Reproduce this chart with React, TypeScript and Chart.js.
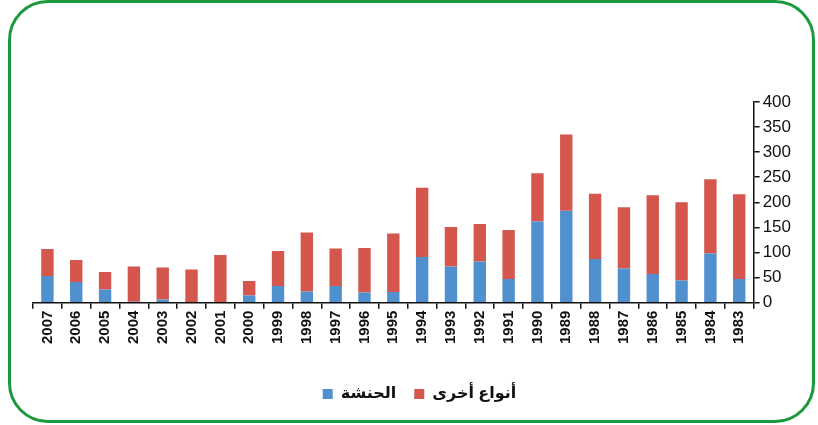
import React, { useEffect, useRef } from "react";
import { Chart, registerables } from "chart.js";

Chart.register(...registerables);

const years = [
  "2007", "2006", "2005", "2004", "2003", "2002", "2001", "2000", "1999",
  "1998", "1997", "1996", "1995", "1994", "1993", "1992", "1991", "1990",
  "1989", "1988", "1987", "1986", "1985", "1984", "1983",
];

// الحنشة (blue, bottom segment)
const hanasha = [
  53, 41, 26, 2, 6, 0, 0, 14, 33,
  22, 33, 20, 21, 91, 72, 82, 47, 162,
  183, 87, 68, 57, 44, 98, 47,
];

// أنواع أخرى (red, top segment)
const others = [
  54, 44, 35, 70, 64, 66, 95, 29, 70,
  118, 75, 89, 117, 138, 79, 75, 98, 96,
  152, 130, 122, 157, 156, 148, 169,
];

const yTicks = [0, 50, 100, 150, 200, 250, 300, 350, 400];

const seriesNames = ["الحنشة", "أنواع أخرى"];

const legendShift = {
  id: "legendShift",
  afterLayout(chart: any) {
    if (chart.legend) {
      chart.legend.left += 6;
      chart.legend.right += 6;
    }
  },
};

export default function App() {
  const canvasRef = useRef<HTMLCanvasElement | null>(null);

  useEffect(() => {
    document.body.style.margin = "0";
    const canvas = canvasRef.current;
    if (!canvas) return;
    const font = "Arial, 'Liberation Sans', 'DejaVu Sans', sans-serif";
    const chart = new Chart(canvas, {
      type: "bar",
      data: {
        labels: years,
        datasets: [
          {
            label: seriesNames[0],
            data: hanasha,
            backgroundColor: "#5190ce",
            categoryPercentage: 1,
            barPercentage: 0.43,
          },
          {
            label: seriesNames[1],
            data: others,
            backgroundColor: "#d4564d",
            categoryPercentage: 1,
            barPercentage: 0.43,
          },
        ],
      },
      plugins: [legendShift],
      options: {
        responsive: false,
        animation: false,
        layout: { padding: { left: 33, right: 24, top: 102, bottom: 13 } },
        plugins: {
          legend: {
            position: "bottom",
            labels: {
              boxWidth: 10,
              boxHeight: 10,
              padding: 18,
              color: "#111",
              font: { family: font, size: 16, weight: "bold" },
            },
          },
          tooltip: { enabled: false },
        },
        scales: {
          x: {
            stacked: true,
            afterFit: (scale: any) => {
              scale.height += 22;
            },
            grid: {
              display: true,
              drawOnChartArea: false,
              drawTicks: true,
              tickLength: 6,
              color: "#111",
              lineWidth: 1.5,
              offset: true,
            },
            border: { display: true, color: "#111", width: 1.5 },
            ticks: {
              minRotation: 90,
              maxRotation: 90,
              autoSkip: false,
              padding: 2,
              color: "#111",
              font: { family: font, size: 15, weight: "bold" },
            },
          },
          y: {
            stacked: true,
            position: "right",
            min: 0,
            max: 400,
            afterBuildTicks: (axis: any) => {
              axis.ticks = yTicks.map((v) => ({ value: v }));
            },
            grid: {
              display: true,
              drawOnChartArea: false,
              drawTicks: true,
              tickLength: 6,
              color: "#111",
              lineWidth: 1.5,
            },
            border: { display: true, color: "#111", width: 1.5 },
            ticks: {
              padding: 3,
              color: "#111",
              font: { family: font, size: 17 },
            },
          },
        },
      },
    });
    return () => chart.destroy();
  }, []);

  return (
    <div style={{ position: "relative", width: 818, height: 425, overflow: "hidden", background: "#fff" }}>
      <canvas ref={canvasRef} width={818} height={425} style={{ position: "absolute", left: 0, top: 0 }} />
      <div
        style={{
          position: "absolute",
          left: 8,
          top: 0,
          width: 807,
          height: 423,
          boxSizing: "border-box",
          border: "3px solid #1a9a3c",
          borderRadius: 40,
          pointerEvents: "none",
        }}
      />
    </div>
  );
}
